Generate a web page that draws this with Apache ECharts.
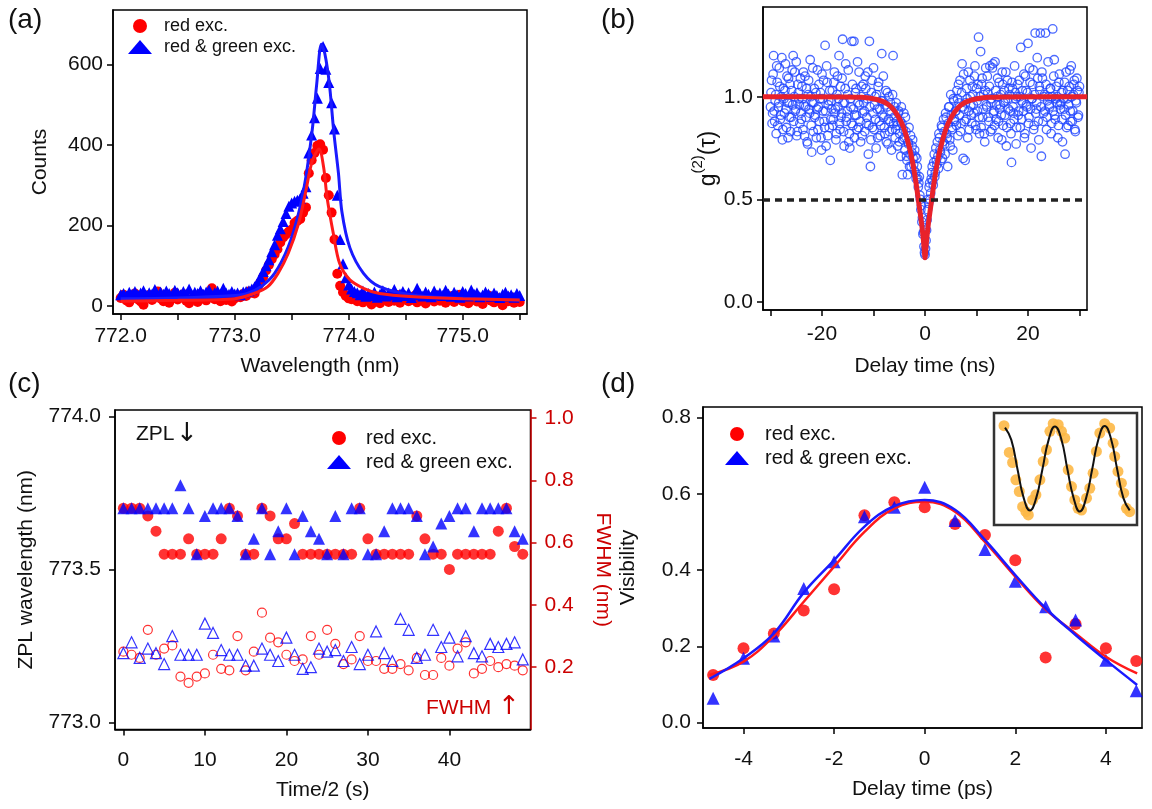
<!DOCTYPE html>
<html>
<head>
<meta charset="utf-8">
<title>spectra and g2</title>
<style>
  html, body { margin: 0; padding: 0; background: #fff; }
  #main { width: 1152px; height: 809px; }
</style>
</head>
<body>
<div id="main"></div>
<script src="https://cdn.jsdelivr.net/npm/echarts@6.0.0/dist/echarts.min.js"></script>
<script>
// ---- (a) spectra, one point every 0.025 nm from 772.0 nm
var aWlStart = 772.0, aWlStep = 0.025;
var aRedCounts = [
  20, 28, 14, 9, 24, 31, 17, 11, 3, 22, 27, 15, 25, 36, 19, 12, 26, 8, 21, 33,
  16, 24, 29, 13, 7, 18, 23, 10, 30, 20, 14, 26, 44, 17, 21, 12, 28, 15, 24, 11,
  19, 26, 22, 30, 25, 36, 33,
  31, 45, 58, 72, 88, 102, 116, 128, 141, 158, 170, 178, 185, 190, 206, 212, 216, 232, 245,
  330, 362, 380, 398, 402, 388, 318, 275, 232, 165, 80, 50, 34, 25, 19,
  17, 22, 12, 26, 9, 19, 14, 4, 21, 11, 7, 24, 16, 10, 20, 13, 27, 8, 18, 23,
  12, 15, 25, 9, 19, 14, 6, 22, 17, 11, 26, 13, 20, 8, 16, 24, 10, 18, 28, 12,
  21, 7, 15, 23, 11, 19, 5, 17, 26, 13, 9, 20, 14, 2, 18, 12, 22, 8, 16, 10
];
var aBlueCounts = [
  28, 31, 25, 34, 29, 36, 27, 32, 38, 26, 33, 30, 41, 27, 35, 29, 37, 31, 26, 39,
  33, 28, 36, 30, 42, 27, 34, 31, 38, 29, 35, 40, 28, 33, 37, 30, 44, 32, 29, 36,
  30, 32, 28, 35, 36, 38, 42, 48, 58, 72, 86, 100, 115, 135, 152, 176, 192, 210, 230, 248,
  256, 260, 263, 267, 280, 296, 380, 425, 468, 516, 590, 645, 588, 555, 505, 440, 275, 165, 105, 70,
  52, 42, 36,
  33, 28, 37, 24, 31, 26, 35, 22, 29, 38, 25, 32, 27, 41, 23, 30, 36, 26, 33, 21,
  28, 44, 31, 25, 35, 29, 23, 37, 27, 32, 26, 39, 30, 24, 34, 28, 22, 36, 31, 25,
  40, 29, 33, 23, 27, 35, 30, 24, 32, 26, 21, 29, 34, 25, 28, 22, 31, 26
];
var aRedFitWl = [772.0, 772.5, 773.0, 773.17, 773.29, 773.38, 773.47, 773.56, 773.62, 773.68, 773.74, 773.78, 773.81, 773.865, 773.92, 774.01, 774.13, 774.27, 774.57, 775.0, 775.5];
var aRedFit   = [12, 14, 18, 31, 48, 81, 131, 205, 280, 360, 390, 345, 270, 180, 106, 65, 44, 31, 23, 18, 15];
var aBlueFitWl = [772.0, 772.5, 773.0, 773.11, 773.23, 773.35, 773.47, 773.56, 773.62, 773.68, 773.72, 773.76, 773.79, 773.83, 773.87, 773.91, 773.94, 774.01, 774.13, 774.27, 774.57, 775.0, 775.5];
var aBlueFit   = [18, 20, 26, 31, 48, 81, 147, 230, 313, 437, 553, 650, 628, 553, 430, 330, 235, 145, 81, 48, 27, 19, 15];

// ---- (b) g2: bG2 every 0.2 ns from -30 ns, bG2Mid every 0.2 ns from -29.9 ns
var bTauStart = -30, bTauMidStart = -29.9, bTauStep = 0.2;
var bG2 = [
  0.95, 1.08, 0.92, 1.20, 0.88, 1.01, 1.15, 0.86, 0.97, 1.05, 0.91, 1.19, 0.84, 0.99, 1.03, 0.94, 1.10, 0.80, 0.97, 1.06, 0.90, 1.13, 1.20, 1.00, 0.93, 1.17, 0.83, 1.02, 0.96, 1.09,
  0.89, 0.99, 1.12, 0.81, 0.95, 1.04, 0.77, 1.08, 0.92, 1.00, 0.73, 1.14, 0.97, 0.90, 1.02, 0.94, 0.84, 1.06, 0.99, 0.80, 1.11, 0.93, 0.88, 1.25, 0.76, 1.07, 0.96, 0.85, 0.69, 0.98,
  1.03, 0.89, 1.12, 0.94, 0.82, 1.10, 0.99, 0.87, 1.05, 0.92, 1.28, 0.83, 0.97, 1.16, 0.90, 1.01, 0.78, 0.75, 0.95, 1.27, 0.86, 1.27, 0.91, 1.04, 0.84, 0.97, 1.12, 0.88, 1.00, 0.81,
  1.06, 0.93, 1.10, 0.87, 0.99, 0.72, 1.27, 0.66, 1.02, 0.85, 1.14, 0.96, 0.89, 1.01, 0.80, 1.07, 0.94, 0.86, 1.21, 0.98, 0.90, 0.82, 1.03, 0.95, 0.77, 1.00, 0.88, 0.93, 0.84, 1.20,
  0.90, 0.80, 0.97, 0.86, 0.92, 0.78, 0.88, 0.95, 0.62, 0.84, 0.80, 0.90, 0.71, 0.62, 0.77, 0.66, 0.81, 0.73, 0.79, 0.67, 0.74, 0.63, 0.70, 0.60, 0.58, 0.52, 0.45, 0.39, 0.33, 0.27,
  0.23, 0.30, 0.40, 0.50, 0.56, 0.50, 0.60, 0.66, 0.57, 0.72, 0.63, 0.69, 0.78, 0.65, 0.80, 0.73, 0.86, 0.70, 0.89, 0.77, 0.92, 0.82, 0.66, 0.95, 0.79, 1.01, 0.85, 0.74, 0.98, 0.88,
  0.93, 1.03, 0.81, 0.97, 1.08, 0.87, 1.16, 0.70, 0.94, 0.69, 0.89, 0.99, 1.12, 0.84, 1.00, 0.91, 1.05, 0.96, 1.10, 0.86, 1.04, 0.93, 1.29, 0.82, 1.22, 1.06, 0.90, 1.01, 0.78, 1.14,
  0.95, 1.02, 0.88, 1.15, 0.97, 0.84, 1.16, 0.93, 1.17, 0.89, 1.00, 0.80, 1.07, 0.96, 0.91, 1.12, 0.86, 1.03, 0.98, 0.76, 1.08, 0.94, 1.01, 0.87, 0.68, 1.04, 0.92, 1.15, 0.99, 0.85,
  1.06, 0.93, 1.00, 1.24, 0.89, 0.97, 1.11, 0.82, 1.03, 0.95, 1.26, 0.90, 1.07, 0.75, 0.99, 1.13, 0.86, 1.31, 0.94, 1.19, 0.88, 1.05, 1.31, 0.71, 1.09, 0.92, 1.01, 1.31, 0.84, 0.98,
  1.00, 0.95, 1.04, 0.87, 1.33, 1.10, 0.91, 0.99, 1.00, 0.80, 1.07, 0.96, 0.97, 0.89, 1.03, 0.94, 0.72, 1.12, 0.99, 0.86, 1.05, 0.93, 1.15, 0.88, 1.01, 1.08, 0.83, 0.97, 1.03, 0.91,
  1.05
];
var bG2Mid = [
  1.02, 0.87, 1.11, 0.93, 0.98, 0.82, 1.07, 0.95, 1.14, 0.89, 1.00, 0.79, 1.04, 0.92, 1.16, 0.85, 0.97, 1.09, 0.90, 0.83, 1.03, 0.96, 0.88, 1.12, 0.94, 0.81, 1.06, 0.99, 0.87, 0.92,
  1.05, 0.84, 0.96, 1.10, 0.90, 0.78, 1.01, 0.94, 1.18, 0.86, 0.97, 0.83, 1.04, 0.91, 0.80, 1.13, 0.95, 0.88, 1.02, 0.74, 0.99, 1.08, 0.85, 0.93, 1.15, 0.81, 0.98, 1.03, 0.89, 0.94,
  0.86, 1.07, 0.92, 0.79, 1.01, 0.95, 1.20, 0.84, 0.90, 1.09, 0.97, 0.76, 1.04, 0.88, 0.93, 1.13, 0.82, 0.99, 0.87, 1.06, 0.94, 0.80, 1.02, 0.91, 1.17, 0.85, 0.96, 0.78, 1.05, 0.92,
  0.97, 0.83, 1.04, 0.90, 1.12, 0.86, 0.95, 0.79, 1.08, 0.92, 0.84, 1.00, 0.75, 0.94, 1.05, 0.88, 0.81, 0.98, 0.91, 1.10, 0.85, 0.96, 0.78, 1.02, 0.89, 0.83, 0.97, 0.74, 1.01, 0.87,
  0.95, 0.84, 0.88, 0.76, 0.93, 0.82, 0.71, 0.87, 0.79, 0.92, 0.74, 0.83, 0.69, 0.78, 0.85, 0.72, 0.66, 0.76, 0.70, 0.64, 0.71, 0.60, 0.66, 0.56, 0.61, 0.50, 0.47, 0.41, 0.34, 0.24,
  0.26, 0.35, 0.45, 0.48, 0.58, 0.53, 0.63, 0.59, 0.68, 0.61, 0.75, 0.67, 0.71, 0.82, 0.74, 0.69, 0.85, 0.78, 0.83, 0.72, 0.90, 0.80, 0.87, 0.95, 0.76, 0.91, 0.84, 0.99, 0.89, 0.93,
  0.86, 0.99, 1.06, 0.91, 0.83, 1.02, 0.95, 1.11, 0.88, 0.97, 1.04, 0.80, 0.93, 1.08, 0.96, 0.87, 1.01, 0.92, 1.15, 0.84, 0.98, 1.06, 0.90, 1.00, 0.85, 1.09, 0.94, 0.82, 1.03, 0.96,
  1.10, 0.90, 1.05, 0.83, 0.99, 1.14, 0.92, 0.86, 1.03, 0.96, 1.09, 0.88, 0.94, 1.01, 0.79, 1.06, 0.97, 0.91, 1.12, 0.85, 0.99, 1.04, 0.93, 0.82, 1.07, 0.95, 0.89, 1.02, 0.77, 1.00,
  0.91, 1.08, 0.85, 0.98, 1.03, 0.93, 0.80, 1.10, 0.96, 1.02, 0.87, 1.14, 0.94, 0.99, 1.06, 0.84, 1.01, 0.92, 0.97, 1.09, 0.79, 1.03, 0.95, 1.12, 0.88, 1.00, 0.93, 1.06, 0.90, 1.17,
  0.96, 1.04, 0.82, 1.00, 0.93, 1.18, 0.89, 1.05, 0.97, 0.86, 1.11, 0.94, 1.02, 0.78, 0.99, 1.07, 0.91, 0.85, 1.03, 0.96, 1.13, 0.88, 1.00, 0.93, 1.06, 0.84, 0.98, 1.09, 0.90, 1.02
];
var bFitTau = [-31.5, -15, -12.3, -9, -7, -5.8, -4.5, -3.9, -3, -2.4, -1.8, -1.3, -0.65, -0.3, 0, 0.3, 0.65, 1.3, 1.8, 2.4, 3, 3.9, 4.5, 5.8, 7, 9, 12.3, 15, 31.5];
var bFitG   = [1.0, 0.999, 0.997, 0.984, 0.96, 0.927, 0.87, 0.83, 0.75, 0.68, 0.59, 0.50, 0.38, 0.30, 0.215, 0.30, 0.38, 0.50, 0.59, 0.68, 0.75, 0.83, 0.87, 0.927, 0.96, 0.984, 0.997, 0.999, 1.0];
var bHalfLevel = 0.5;

// ---- (c) one point per time step 0..49
var cRedZpl = [
  773.70, 773.70, 773.70, 773.675, 773.625, 773.55, 773.55, 773.55, 773.60, 773.55,
  773.55, 773.55, 773.60, 773.70, 773.675, 773.55, 773.55, 773.70, 773.675, 773.60,
  773.60, 773.65, 773.55, 773.55, 773.55, 773.55, 773.55, 773.55, 773.55, 773.70,
  773.60, 773.55, 773.55, 773.55, 773.55, 773.55, 773.675, 773.60, 773.55, 773.55,
  773.50, 773.55, 773.55, 773.55, 773.55, 773.55, 773.625, 773.70, 773.575, 773.55
];
var cBlueZpl = [
  773.70, 773.70, 773.70, 773.70, 773.70, 773.70, 773.70, 773.775, 773.70, 773.55,
  773.675, 773.70, 773.70, 773.70, 773.675, 773.55, 773.60, 773.70, 773.55, 773.625,
  773.70, 773.55, 773.675, 773.625, 773.60, 773.55, 773.675, 773.55, 773.70, 773.70,
  773.55, 773.55, 773.625, 773.70, 773.70, 773.70, 773.675, 773.55, 773.575, 773.65,
  773.675, 773.70, 773.70, 773.625, 773.70, 773.70, 773.70, 773.70, 773.625, 773.60
];
var cRedFwhm = [
  0.25, 0.24, 0.23, 0.32, 0.24, 0.26, 0.27, 0.17, 0.15, 0.17,
  0.18, 0.24, 0.195, 0.19, 0.30, 0.19, 0.25, 0.375, 0.295, 0.28,
  0.24, 0.22, 0.225, 0.30, 0.24, 0.32, 0.275, 0.21, 0.225, 0.30,
  0.22, 0.22, 0.195, 0.195, 0.21, 0.19, 0.23, 0.175, 0.175, 0.23,
  0.205, 0.26, 0.28, 0.18, 0.195, 0.22, 0.20, 0.21, 0.205, 0.19
];
var cBlueFwhm = [
  0.245, 0.28, 0.23, 0.26, 0.245, 0.21, 0.30, 0.24, 0.24, 0.24,
  0.34, 0.31, 0.255, 0.24, 0.24, 0.205, 0.205, 0.26, 0.24, 0.22,
  0.295, 0.24, 0.195, 0.20, 0.26, 0.25, 0.255, 0.22, 0.265, 0.21,
  0.24, 0.315, 0.245, 0.22, 0.355, 0.32, 0.23, 0.24, 0.32, 0.265,
  0.295, 0.235, 0.30, 0.245, 0.235, 0.275, 0.265, 0.275, 0.28, 0.225
];

// ---- (d) visibility
var dDelay   = [-4.67, -4, -3.33, -2.67, -2, -1.33, -0.67, 0, 0.67, 1.33, 2, 2.67, 3.33, 4, 4.67];
var dRedVis  = [0.125, 0.195, 0.234, 0.294, 0.350, 0.544, 0.578, 0.565, 0.521, 0.492, 0.426, 0.171, 0.259, 0.195, 0.162];
var dBlueVis = [0.064, 0.169, 0.227, 0.352, 0.422, 0.540, 0.565, 0.617, 0.530, 0.454, 0.371, 0.304, 0.269, 0.164, 0.084];
var dFitX    = [-4.75, -4, -3.33, -2.67, -2, -1.33, -0.67, 0, 0.67, 1.33, 2, 2.67, 3.33, 4, 4.69];
var dRedFit  = [0.125, 0.16, 0.227, 0.317, 0.409, 0.500, 0.562, 0.579, 0.553, 0.474, 0.383, 0.297, 0.234, 0.173, 0.129];
var dBlueFit = [0.115, 0.169, 0.234, 0.341, 0.426, 0.514, 0.568, 0.584, 0.558, 0.479, 0.387, 0.300, 0.230, 0.164, 0.099];

// ---- (d) inset, both axes 0..1
var insetX = [0.07, 0.107, 0.13, 0.153, 0.177, 0.2, 0.223, 0.24, 0.27, 0.293, 0.321, 0.344, 0.367, 0.391, 0.414, 0.449, 0.472, 0.495, 0.519,
  0.542, 0.565, 0.588, 0.612, 0.647, 0.67, 0.693, 0.716, 0.74, 0.774, 0.809, 0.833, 0.844, 0.867, 0.891, 0.907, 0.926, 0.949];
var insetY = [0.887, 0.648, 0.558, 0.403, 0.299, 0.164, 0.119, 0.09, 0.224, 0.269, 0.403, 0.567, 0.672, 0.836, 0.904, 0.896, 0.836, 0.776, 0.493,
  0.343, 0.224, 0.149, 0.134, 0.239, 0.328, 0.463, 0.657, 0.821, 0.904, 0.866, 0.731, 0.612, 0.478, 0.373, 0.284, 0.149, 0.119];
var insetFitX = [0.077, 0.121, 0.164, 0.208, 0.251, 0.295, 0.339, 0.382, 0.426, 0.47, 0.513, 0.557, 0.600, 0.644, 0.687, 0.731, 0.774, 0.818, 0.861, 0.905, 0.949];
var insetFitY = [0.87, 0.76, 0.50, 0.24, 0.13, 0.24, 0.50, 0.76, 0.88, 0.77, 0.50, 0.24, 0.12, 0.24, 0.50, 0.77, 0.885, 0.77, 0.50, 0.24, 0.13];

var FONT = 'Liberation Sans, Arial, sans-serif';
var RED = '#ff0000', BLUE = '#0000ff', DARKRED = '#cc0000';

function pairs(xs, ys) { return ys.map(function (y, i) { return [xs[i], y]; }); }
function stepped(start, step, ys) { return ys.map(function (y, i) { return [start + step * i, y]; }); }

function tick(vals, color) {
  return { show: true, length: 6, customValues: vals, lineStyle: { color: color || '#000', width: 1.5 } };
}
function label(vals, digits, margin, color) {
  return {
    customValues: vals, margin: margin, color: color || '#111', fontSize: 21, fontFamily: FONT,
    formatter: function (v) { return digits == null ? String(v) : Number(v).toFixed(digits); }
  };
}
function line(color) { return { show: true, onZero: false, lineStyle: { color: color || '#000', width: 1.5 } }; }
function nameStyle(color) { return { fontSize: 21, fontFamily: FONT, color: color || '#111' }; }

var cTime = cRedZpl.map(function (v, i) { return i; });

var myChart = echarts.init(document.getElementById('main'), null, { renderer: 'canvas' });

var option = {
  backgroundColor: '#fff',
  animation: false,
  grid: [
    { left: 113, top: 10, width: 414, height: 304, show: true, borderColor: '#000', borderWidth: 1.5 },
    { left: 763, top: 7, width: 324, height: 303, show: true, borderColor: '#000', borderWidth: 1.5 },
    { left: 115, top: 410, width: 415.5, height: 319.5, show: true, borderColor: '#000', borderWidth: 1.5 },
    { left: 703, top: 407, width: 439, height: 321, show: true, borderColor: '#000', borderWidth: 1.5 },
    { left: 994, top: 413, width: 143, height: 112, show: true, borderColor: '#333', borderWidth: 2.5 }
  ],
  xAxis: [
    { type: 'value', gridIndex: 0, min: 771.9325, max: 775.564, splitLine: { show: false }, axisLine: line(),
      axisTick: tick([772, 772.5, 773, 773.5, 774, 774.5, 775, 775.5]), axisLabel: label([772, 773, 774, 775], 1, 12),
      name: 'Wavelength (nm)', nameLocation: 'middle', nameGap: 42, nameTextStyle: nameStyle() },
    { type: 'value', gridIndex: 1, min: -31.46, max: 31.46, splitLine: { show: false }, axisLine: line(),
      axisTick: tick([-30, -20, -10, 0, 10, 20, 30]), axisLabel: label([-20, 0, 20], null, 14),
      name: 'Delay time (ns)', nameLocation: 'middle', nameGap: 46, nameTextStyle: nameStyle() },
    { type: 'value', gridIndex: 2, min: -1.03, max: 49.95, splitLine: { show: false }, axisLine: line(),
      axisTick: tick([0, 10, 20, 30, 40]), axisLabel: label([0, 10, 20, 30, 40], null, 20),
      name: 'Time/2 (s)', nameLocation: 'middle', nameGap: 50, nameTextStyle: nameStyle() },
    { type: 'value', gridIndex: 3, min: -4.894, max: 4.797, splitLine: { show: false }, axisLine: line(),
      axisTick: tick([-4, -2, 0, 2, 4]), axisLabel: label([-4, -2, 0, 2, 4], null, 21),
      name: 'Delay time (ps)', nameLocation: 'middle', nameGap: 51, nameTextStyle: nameStyle() },
    { type: 'value', gridIndex: 4, min: 0, max: 1, show: false }
  ],
  yAxis: [
    { type: 'value', gridIndex: 0, min: -19.9, max: 735.4, splitLine: { show: false }, axisLine: line(),
      axisTick: tick([0, 200, 400, 600]), axisLabel: label([0, 200, 400, 600], null, 10),
      name: 'Counts', nameLocation: 'middle', nameGap: 62, nameTextStyle: nameStyle() },
    { type: 'value', gridIndex: 1, min: -0.039, max: 1.437, splitLine: { show: false }, axisLine: line(),
      axisTick: tick([0, 0.5, 1.0]), axisLabel: label([0, 0.5, 1.0], 1, 10),
      name: '{a|g}{b|(2)}{a|(τ)}', nameLocation: 'middle', nameGap: 36,
      nameTextStyle: { fontFamily: FONT, color: '#111', rich: {
        a: { fontSize: 23, fontFamily: FONT, color: '#111', lineHeight: 30, verticalAlign: 'bottom' },
        b: { fontSize: 15, fontFamily: FONT, color: '#111', lineHeight: 30, verticalAlign: 'top' } } } },
    { type: 'value', gridIndex: 2, position: 'left', min: 772.977, max: 774.021, splitLine: { show: false }, axisLine: line(),
      axisTick: tick([773.0, 773.5, 774.0]), axisLabel: label([773.0, 773.5, 774.0], 1, 14),
      name: 'ZPL wavelength (nm)', nameLocation: 'middle', nameGap: 78, nameTextStyle: nameStyle() },
    { type: 'value', gridIndex: 2, position: 'right', min: 0, max: 1.026, splitLine: { show: false }, axisLine: line(DARKRED),
      axisTick: tick([0.2, 0.4, 0.6, 0.8, 1.0], DARKRED), axisLabel: label([0.2, 0.4, 0.6, 0.8, 1.0], 1, 14, DARKRED),
      name: 'FWHM (nm)', nameLocation: 'middle', nameGap: 62, nameRotate: -90, nameTextStyle: nameStyle(DARKRED) },
    { type: 'value', gridIndex: 3, min: -0.0139, max: 0.8275, splitLine: { show: false }, axisLine: line(),
      axisTick: tick([0, 0.2, 0.4, 0.6, 0.8]), axisLabel: label([0, 0.2, 0.4, 0.6, 0.8], 1, 12),
      name: 'Visibility', nameLocation: 'middle', nameGap: 64, nameTextStyle: nameStyle() },
    { type: 'value', gridIndex: 4, min: 0, max: 1, show: false }
  ],
  legend: [
    { orient: 'vertical', left: 123, top: 11, itemWidth: 24, itemHeight: 14, itemGap: 1, selectedMode: false,
      textStyle: { fontSize: 18, fontFamily: FONT, color: '#111', lineHeight: 20, padding: [0, 0, 0, 7] },
      data: [{ name: 'red exc.', icon: 'circle' }, { name: 'red & green exc.', icon: 'triangle' }] },
    { orient: 'vertical', left: 322, top: 422, itemWidth: 24, itemHeight: 14, itemGap: 2, selectedMode: false,
      textStyle: { fontSize: 20, fontFamily: FONT, color: '#111', lineHeight: 22, padding: [0, 0, 0, 10] },
      data: [{ name: 'red exc.', icon: 'circle' }, { name: 'red & green exc.', icon: 'triangle' }] },
    { orient: 'vertical', left: 720, top: 418, itemWidth: 24, itemHeight: 14, itemGap: 2, selectedMode: false,
      textStyle: { fontSize: 20, fontFamily: FONT, color: '#111', lineHeight: 22, padding: [0, 0, 0, 11] },
      data: [{ name: 'red exc.', icon: 'circle' }, { name: 'red & green exc.', icon: 'triangle' }] }
  ],
  graphic: [
    { type: 'text', left: 8, top: 6, style: { text: '(a)', fontSize: 28, fontFamily: FONT, fill: '#111' } },
    { type: 'text', left: 601, top: 6, style: { text: '(b)', fontSize: 28, fontFamily: FONT, fill: '#111' } },
    { type: 'text', left: 8, top: 370, style: { text: '(c)', fontSize: 28, fontFamily: FONT, fill: '#111' } },
    { type: 'text', left: 601, top: 370, style: { text: '(d)', fontSize: 28, fontFamily: FONT, fill: '#111' } },
    { type: 'text', left: 136, top: 424, style: { text: 'ZPL', fontSize: 21, fontFamily: FONT, fill: '#111' } },
    { type: 'text', left: 176, top: 421, style: { text: '↓', fontSize: 26, fontFamily: 'DejaVu Sans', fill: '#111' } },
    { type: 'text', left: 426, top: 698, style: { text: 'FWHM', fontSize: 21, fontFamily: FONT, fill: DARKRED } },
    { type: 'text', left: 498, top: 694, style: { text: '↑', fontSize: 26, fontFamily: 'DejaVu Sans', fill: DARKRED } }
  ],
  series: [
    // (a)
    { name: 'red exc.', type: 'scatter', xAxisIndex: 0, yAxisIndex: 0, symbol: 'circle', symbolSize: 10,
      itemStyle: { color: RED, opacity: 1 }, data: stepped(aWlStart, aWlStep, aRedCounts) },
    { name: 'red & green exc.', type: 'scatter', xAxisIndex: 0, yAxisIndex: 0, symbol: 'triangle', symbolSize: 11,
      itemStyle: { color: BLUE, opacity: 1 }, data: stepped(aWlStart, aWlStep, aBlueCounts) },
    { name: 'a blue fit', type: 'line', xAxisIndex: 0, yAxisIndex: 0, symbol: 'none', smooth: 0.3,
      lineStyle: { color: '#1a1aff', width: 3 }, data: pairs(aBlueFitWl, aBlueFit) },
    { name: 'a red fit', type: 'line', xAxisIndex: 0, yAxisIndex: 0, symbol: 'none', smooth: 0.3,
      lineStyle: { color: '#ff1a1a', width: 3 }, data: pairs(aRedFitWl, aRedFit) },
    // (b)
    { name: 'g2 data', type: 'scatter', xAxisIndex: 1, yAxisIndex: 1, symbol: 'circle', symbolSize: 8.5,
      itemStyle: { color: 'rgba(0,0,0,0)', borderColor: '#1f45ff', borderWidth: 1.3 }, data: stepped(bTauStart, bTauStep, bG2) },
    { name: 'g2 data mid', type: 'scatter', xAxisIndex: 1, yAxisIndex: 1, symbol: 'circle', symbolSize: 8.5,
      itemStyle: { color: 'rgba(0,0,0,0)', borderColor: '#1f45ff', borderWidth: 1.3 }, data: stepped(bTauMidStart, bTauStep, bG2Mid) },
    { name: 'g2 fit', type: 'line', xAxisIndex: 1, yAxisIndex: 1, symbol: 'none', smooth: 0.2,
      lineStyle: { color: '#e8222b', width: 5 }, data: pairs(bFitTau, bFitG),
      markLine: { symbol: 'none', silent: true, label: { show: false }, animation: false,
        lineStyle: { type: [7, 5], color: '#222', width: 3.5 }, data: [{ yAxis: bHalfLevel }] } },
    // (c)
    { name: 'red exc.', type: 'scatter', xAxisIndex: 2, yAxisIndex: 2, symbol: 'circle', symbolSize: 11,
      itemStyle: { color: RED }, data: pairs(cTime, cRedZpl) },
    { name: 'red & green exc.', type: 'scatter', xAxisIndex: 2, yAxisIndex: 2, symbol: 'triangle', symbolSize: 12,
      itemStyle: { color: BLUE }, data: pairs(cTime, cBlueZpl) },
    { name: 'fwhm red', type: 'scatter', xAxisIndex: 2, yAxisIndex: 3, symbol: 'circle', symbolSize: 9,
      itemStyle: { color: 'rgba(0,0,0,0)', borderColor: RED, borderWidth: 1.2 }, data: pairs(cTime, cRedFwhm) },
    { name: 'fwhm blue', type: 'scatter', xAxisIndex: 2, yAxisIndex: 3, symbol: 'triangle', symbolSize: 11,
      itemStyle: { color: 'rgba(0,0,0,0)', borderColor: BLUE, borderWidth: 1.2 }, data: pairs(cTime, cBlueFwhm) },
    // (d)
    { name: 'red exc.', type: 'scatter', xAxisIndex: 3, yAxisIndex: 4, symbol: 'circle', symbolSize: 12,
      itemStyle: { color: RED }, data: pairs(dDelay, dRedVis) },
    { name: 'red & green exc.', type: 'scatter', xAxisIndex: 3, yAxisIndex: 4, symbol: 'triangle', symbolSize: 13,
      itemStyle: { color: BLUE }, data: pairs(dDelay, dBlueVis) },
    { name: 'd red fit', type: 'line', xAxisIndex: 3, yAxisIndex: 4, symbol: 'none', smooth: 0.4,
      lineStyle: { color: '#ff1a1a', width: 2.5 }, data: pairs(dFitX, dRedFit) },
    { name: 'd blue fit', type: 'line', xAxisIndex: 3, yAxisIndex: 4, symbol: 'none', smooth: 0.4,
      lineStyle: { color: '#1a1aff', width: 2.5 }, data: pairs(dFitX, dBlueFit) },
    // inset
    { name: 'inset data', type: 'scatter', xAxisIndex: 4, yAxisIndex: 5, symbol: 'circle', symbolSize: 11,
      itemStyle: { color: '#fdb846', opacity: 0.9 }, data: pairs(insetX, insetY) },
    { name: 'inset fit', type: 'line', xAxisIndex: 4, yAxisIndex: 5, symbol: 'none', smooth: 0.5,
      lineStyle: { color: '#111', width: 2 }, data: pairs(insetFitX, insetFitY) }
  ]
};
myChart.setOption(option);
</script>
</body>
</html>
